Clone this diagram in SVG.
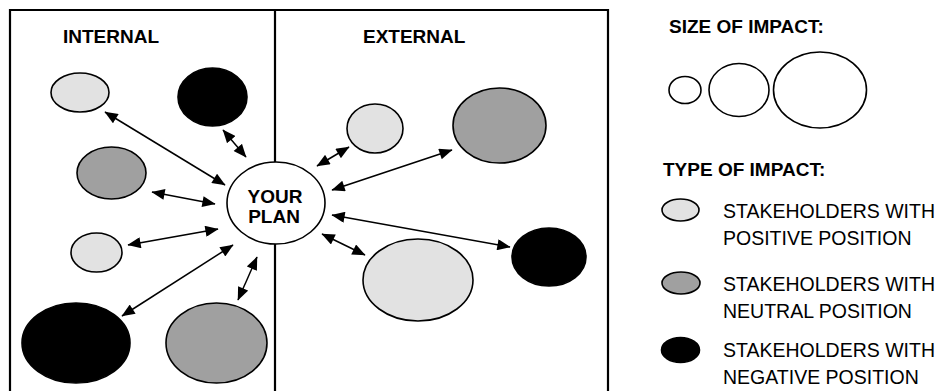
<svg xmlns="http://www.w3.org/2000/svg" width="939" height="391" viewBox="0 0 939 391">
<style>
  .frame { fill: none; stroke: #000; stroke-width: 2.2; }
  .pos { fill: #e2e2e2; stroke: #000; stroke-width: 1.6; }
  .neu { fill: #a0a0a0; stroke: #000; stroke-width: 1.6; }
  .neg { fill: #000; stroke: #000; stroke-width: 1.6; }
  .plain { fill: #fff; stroke: #000; stroke-width: 1.6; }
  .conn line { stroke: #000; stroke-width: 1.5; marker-start: url(#ah); marker-end: url(#ah); }
  .title { font-family: "Liberation Sans", Arial, sans-serif; font-weight: bold; font-size: 19px; fill: #000; }
  .label { font-family: "Liberation Sans", Arial, sans-serif; font-size: 19.5px; fill: #000; }
</style>
<defs>
  <marker id="ah" viewBox="0 0 12 10" refX="11.5" refY="5" markerWidth="14" markerHeight="11" markerUnits="userSpaceOnUse" orient="auto-start-reverse">
    <path d="M0,0 L12,5 L0,10 Z" fill="#000"/>
  </marker>
</defs>
<rect width="939" height="391" fill="#fff"/>

<g id="frame">
  <path class="frame" d="M10,395 V10 H608 V395"/>
  <path class="frame" d="M275,10 V162 M275,244 V395" stroke-width="1.8"/>
  <text class="title" x="63" y="43">INTERNAL</text>
  <text class="title" x="363" y="43">EXTERNAL</text>
</g>

<g class="conn" id="connectors">
  <line x1="105" y1="112" x2="225" y2="185"/>
  <line x1="223" y1="130" x2="246" y2="157"/>
  <line x1="152" y1="192" x2="215" y2="204"/>
  <line x1="128" y1="245" x2="218" y2="229"/>
  <line x1="122" y1="316" x2="233" y2="245"/>
  <line x1="238" y1="300" x2="257" y2="257"/>
  <line x1="349" y1="147" x2="317" y2="166"/>
  <line x1="452" y1="150" x2="332" y2="190"/>
  <line x1="510" y1="247" x2="332" y2="215"/>
  <line x1="365" y1="255" x2="322" y2="234"/>
</g>

<g id="plan">
  <ellipse class="plain" cx="276" cy="203" rx="49" ry="41"/>
  <text class="title" x="275" y="203" text-anchor="middle" font-size="20">YOUR</text>
  <text class="title" x="274" y="223" text-anchor="middle" font-size="20">PLAN</text>
</g>

<g id="int-pos-1"><ellipse class="pos" cx="80" cy="92.5" rx="29" ry="19.5"/></g>
<g id="int-neg-1"><ellipse class="neg" cx="212.5" cy="97" rx="34.5" ry="29"/></g>
<g id="int-neu-1"><ellipse class="neu" cx="111.5" cy="173" rx="34.5" ry="26"/></g>
<g id="int-pos-2"><ellipse class="pos" cx="96.5" cy="252.5" rx="25.5" ry="19.5"/></g>
<g id="int-neg-2"><ellipse class="neg" cx="76" cy="343" rx="54" ry="40"/></g>
<g id="int-neu-2"><ellipse class="neu" cx="216.5" cy="343" rx="50.5" ry="40"/></g>

<g id="ext-pos-1"><ellipse class="pos" cx="375" cy="128.5" rx="28" ry="24.5"/></g>
<g id="ext-neu-1"><ellipse class="neu" cx="499.5" cy="125.5" rx="46.5" ry="37.5"/></g>
<g id="ext-pos-2"><ellipse class="pos" cx="418" cy="280" rx="55" ry="41"/></g>
<g id="ext-neg-1"><ellipse class="neg" cx="549" cy="257" rx="37" ry="29"/></g>

<g id="legend-size">
  <text class="title" x="669" y="33">SIZE OF IMPACT:</text>
  <ellipse class="plain" cx="685" cy="90" rx="16" ry="13.5"/>
  <ellipse class="plain" cx="739" cy="90" rx="30" ry="26.5"/>
  <ellipse class="plain" cx="820" cy="90" rx="46.5" ry="38"/>
</g>

<g id="legend-type">
  <text class="title" x="663" y="176">TYPE OF IMPACT:</text>
</g>
<g id="legend-positive">
  <ellipse class="pos" cx="680.5" cy="210" rx="18.5" ry="11"/>
  <text class="label" x="723" y="218">STAKEHOLDERS WITH</text>
  <text class="label" x="723" y="245">POSITIVE POSITION</text>
</g>
<g id="legend-neutral">
  <ellipse class="neu" cx="681" cy="283" rx="19" ry="11"/>
  <text class="label" x="723" y="291">STAKEHOLDERS WITH</text>
  <text class="label" x="723" y="318">NEUTRAL POSITION</text>
</g>
<g id="legend-negative">
  <ellipse class="neg" cx="680.5" cy="350" rx="19" ry="12.5"/>
  <text class="label" x="723" y="357">STAKEHOLDERS WITH</text>
  <text class="label" x="723" y="384">NEGATIVE POSITION</text>
</g>
</svg>
